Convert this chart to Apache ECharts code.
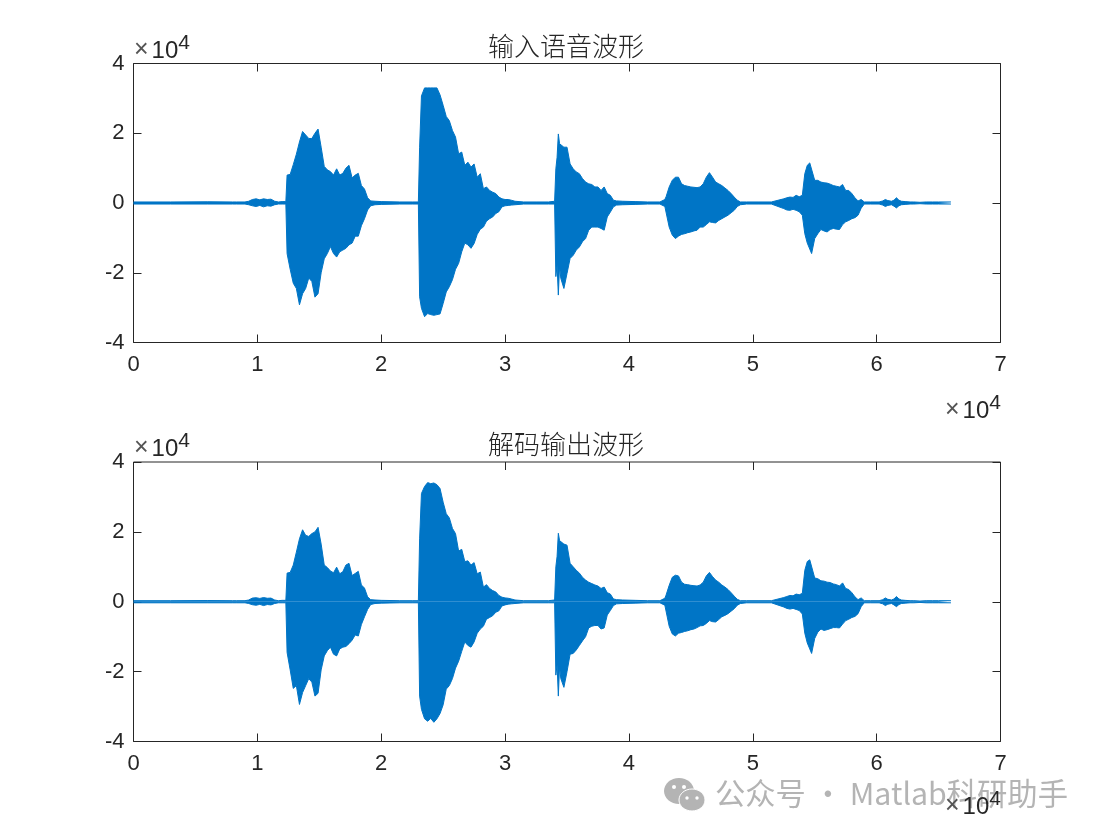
<!DOCTYPE html>
<html><head><meta charset="utf-8">
<style>html,body{margin:0;padding:0;background:#fff}#c{width:1102px;height:838px}</style>
<script src="https://cdn.jsdelivr.net/npm/echarts@6/dist/echarts.min.js"></script>
</head><body><div id="c"></div>
<script>
var xs = [
0,3000,6000,8000,8100,8300,9000,9300,9600,9900,10200,10500,10800,11100,11400,11700,12000,12300,
12400,12650,12900,13150,13400,13650,13900,14150,14400,14650,14900,15150,15400,15650,15900,16150,16400,16650,16900,17150,17400,17650,17900,18150,18400,18650,18900,19150,19500,20000,21500,22500,
23000,23100,23250,23500,23750,24000,24250,24500,24750,25000,25250,25500,25750,26000,26250,26500,26750,27000,27250,27500,27750,28000,28250,28500,28750,29000,29250,29500,29750,30000,30250,30500,30800,31500,32500,33500,
34000,34100,34200,34300,34400,34500,34750,35000,35250,35500,35750,36000,36250,36500,36750,37000,37250,37500,37750,38000,38250,38500,38750,39000,39500,40500,41500,42500,
42900,43000,43250,43500,43750,44000,44250,44500,44750,45000,45250,45500,45750,46000,46250,46500,46750,47000,47250,47500,47750,48000,48250,48500,48750,49000,49500,50500,51500,
52500,52750,53000,53250,53500,53750,54000,54200,54400,54600,54750,55000,55250,55500,55750,56000,56250,56500,56750,57000,57250,57500,57750,58000,58250,58500,58750,59000,59500,
60200,60500,60700,60900,61200,61400,61600,61800,62000,62300,62700,63000,63500,64000,64500,65000,66000];

// amplitudes below are in tens of counts
var inputTop = [
30,30,35,30,60,30,30,50,100,120,90,120,100,110,50,30,40,40,
800,820,1100,1400,1750,2050,1950,1850,1850,2000,2120,1600,1050,950,900,800,980,800,850,1000,1080,720,800,850,500,400,150,60,50,40,30,30,
30,1600,3070,3300,3300,3300,3300,3300,3100,2800,2480,2360,2080,1890,1410,1460,1080,1170,1030,1120,740,840,410,460,360,310,270,170,120,100,100,80,50,30,30,30,
50,980,1310,1980,1700,1740,1600,1600,1120,980,890,840,700,600,550,530,460,460,360,460,270,220,80,60,50,40,30,30,
100,180,460,650,740,740,550,500,480,460,450,440,460,550,740,870,740,600,550,500,430,360,270,170,80,30,30,30,30,
120,150,170,160,220,180,220,840,1080,1150,1150,650,650,600,580,570,540,500,480,460,530,360,360,270,150,60,100,30,30,
30,60,100,70,50,80,150,80,50,40,30,30,20,30,30,30,30];

var inputBottom = [
-30,-30,-30,-30,-50,-30,-30,-50,-80,-100,-70,-110,-80,-90,-50,-30,-30,-30,
-1450,-1900,-2300,-2450,-2920,-2600,-2450,-2150,-2250,-2700,-2600,-2000,-1600,-1450,-1250,-1450,-1550,-1400,-1350,-1300,-1200,-1150,-950,-950,-650,-450,-200,-80,-50,-40,-30,-30,
-30,-2690,-3020,-3260,-3170,-3200,-3220,-3200,-3180,-2880,-2550,-2400,-2200,-1900,-1730,-1400,-1150,-1200,-1300,-1160,-900,-750,-690,-520,-450,-400,-300,-250,-110,-80,-70,-60,-50,-30,-30,-30,
-30,-2110,-1780,-2640,-1800,-2160,-2450,-2020,-1590,-1500,-1350,-1260,-1110,-1020,-780,-690,-690,-690,-730,-780,-400,-260,-110,-60,-50,-40,-30,-30,
-100,-110,-690,-920,-1020,-950,-900,-880,-850,-830,-800,-780,-690,-690,-620,-540,-560,-570,-500,-450,-400,-350,-280,-210,-100,-50,-30,-30,-30,
-160,-200,-210,-180,-210,-250,-350,-880,-1150,-1320,-1450,-1020,-880,-760,-800,-830,-760,-730,-750,-760,-620,-540,-500,-450,-420,-350,-150,-30,-30,
-30,-60,-100,-70,-50,-90,-140,-80,-50,-40,-30,-30,-20,-30,-30,-30,-30];

var outputTop = [
30,30,35,30,60,30,30,50,105,115,95,120,100,105,50,30,40,40,
820,840,1050,1420,1800,2060,1900,1870,1950,2000,2130,1650,1050,980,880,830,990,800,860,1050,1100,750,810,870,480,390,140,60,50,40,30,30,
30,1800,3100,3300,3410,3380,3400,3350,3240,2850,2520,2400,2100,1950,1450,1500,1150,1170,1050,1120,800,850,420,490,380,320,280,180,130,110,100,80,50,30,30,30,
50,1000,1300,1960,1750,1700,1650,1620,1100,1000,900,820,700,620,560,520,480,450,380,420,260,220,80,60,50,40,30,30,
100,190,470,700,760,740,560,500,490,470,460,450,480,560,740,840,720,620,560,480,420,350,260,160,70,30,30,30,30,
120,150,180,170,220,200,240,900,1150,1200,1180,680,660,600,590,560,550,510,490,450,540,380,350,260,140,60,110,30,30,
30,60,110,70,50,80,150,80,50,40,30,30,20,30,30,30,30];

var outputBottom = [
-30,-30,-30,-30,-50,-30,-30,-50,-85,-100,-75,-110,-80,-90,-50,-30,-30,-30,
-1450,-1950,-2480,-2400,-2940,-2600,-2400,-2200,-2300,-2700,-2620,-1950,-1550,-1400,-1300,-1500,-1550,-1350,-1300,-1280,-1200,-1100,-950,-980,-650,-430,-220,-80,-50,-40,-30,-30,
-30,-2700,-3080,-3350,-3420,-3340,-3450,-3350,-3200,-2950,-2500,-2400,-2200,-1900,-1700,-1420,-1150,-1250,-1300,-1150,-900,-780,-700,-500,-450,-400,-300,-260,-120,-90,-70,-60,-50,-30,-30,-30,
-30,-2100,-1800,-2700,-1850,-2200,-2450,-2000,-1500,-1480,-1380,-1250,-1120,-1000,-750,-700,-680,-680,-780,-750,-380,-250,-110,-60,-50,-40,-30,-30,
-100,-120,-700,-920,-980,-900,-880,-850,-830,-800,-780,-740,-690,-680,-620,-540,-570,-580,-510,-430,-390,-340,-270,-200,-100,-50,-30,-30,-30,
-150,-190,-210,-190,-220,-250,-350,-900,-1180,-1350,-1480,-1050,-870,-780,-820,-800,-770,-740,-740,-750,-640,-540,-500,-450,-420,-340,-140,-30,-30,
-30,-60,-110,-70,-50,-90,-140,-80,-50,-40,-30,-30,-20,-30,-30,-30,-30];

var titles = ['输入语音波形', '解码输出波形'];
var watermark = '公众号 · Matlab科研助手';
var exponent = '{x|×}{t|10}{s|4}';

var INK = '#262626', BLUE = '#0075C6', SANS = '"Liberation Sans", Arial, sans-serif';
var pair = function (arr) { return xs.map(function (x, i) { return [x, arr[i] * 10]; }); };
var fmt = function (v) { return String(v / 10000); };

function xAxisFor(g, pos, show) {
  return { type: 'value', gridIndex: g, position: pos, min: 0, max: 70000, interval: 10000,
    axisLine: { show: false, onZero: false }, splitLine: { show: false },
    axisTick: { show: true, inside: true, length: 8, lineStyle: { color: INK, width: 1 } },
    axisLabel: { show: show, formatter: fmt, color: INK, fontFamily: SANS, fontSize: 22, margin: 11 } };
}
function yAxisFor(g, pos, show) {
  return { type: 'value', gridIndex: g, position: pos, min: -40000, max: 40000, interval: 20000,
    axisLine: { show: false, onZero: false }, splitLine: { show: false },
    axisTick: { show: true, inside: true, length: 8, lineStyle: { color: INK, width: 1 } },
    axisLabel: { show: show, formatter: fmt, color: INK, fontFamily: SANS, fontSize: 22, margin: 9 } };
}
function wave(idx, arr) {
  return { type: 'line', xAxisIndex: idx, yAxisIndex: idx, data: pair(arr),
    showSymbol: false, sampling: null, silent: true, clip: true, smooth: false,
    lineStyle: { color: BLUE, width: 1 }, itemStyle: { color: BLUE },
    areaStyle: { color: BLUE, opacity: 1, origin: 0 } };
}
function exp10(left, top) {
  return { type: 'text', left: left, top: top, z: 50, style: { text: exponent,
    rich: { x: { fontFamily: SANS, fontSize: 25, fill: '#555', color: '#555', verticalAlign: 'bottom', lineHeight: 30, padding: [0, 3, 0, 0] },
            t: { fontFamily: SANS, fontSize: 24, fill: INK, color: INK, verticalAlign: 'bottom', lineHeight: 30 },
            s: { fontFamily: SANS, fontSize: 21, fill: INK, color: INK, verticalAlign: 'top', lineHeight: 30, padding: [0, 0, 12, 0] } } } };
}

var chart = echarts.init(document.getElementById('c'), null, { renderer: 'canvas' });
chart.setOption({
  animation: false,
  backgroundColor: '#fff',
  title: [
    { text: titles[0], left: 561, top: 28, textAlign: 'center', textStyle: { fontFamily: '"Noto Sans CJK SC"', fontWeight: 300, fontSize: 26, color: INK } },
    { text: titles[1], left: 561, top: 426, textAlign: 'center', textStyle: { fontFamily: '"Noto Sans CJK SC"', fontWeight: 300, fontSize: 26, color: INK } }
  ],
  grid: [
    { left: 133.5, top: 63.5, width: 867, height: 279, show: true, borderColor: INK, borderWidth: 1, backgroundColor: 'transparent' },
    { left: 133.5, top: 462, width: 867, height: 279.5, show: true, borderColor: INK, borderWidth: 1, backgroundColor: 'transparent' }
  ],
  xAxis: [xAxisFor(0, 'bottom', true), xAxisFor(1, 'bottom', true), xAxisFor(0, 'top', false), xAxisFor(1, 'top', false)],
  yAxis: [yAxisFor(0, 'left', true), yAxisFor(1, 'left', true), yAxisFor(0, 'right', false), yAxisFor(1, 'right', false)],
  series: [wave(0, inputTop), wave(0, inputBottom), wave(1, outputTop), wave(1, outputBottom)],
  graphic: [
    { type: 'group', left: 664, top: 778, z: 40, children: [
      { type: 'ellipse', shape: { cx: 15, cy: 13, rx: 15, ry: 13 }, style: { fill: '#b4b4b4' } },
      { type: 'ellipse', shape: { cx: 28, cy: 22, rx: 13, ry: 11 }, style: { fill: '#b4b4b4', stroke: '#fff', lineWidth: 1 } },
      { type: 'circle', shape: { cx: 10, cy: 9, r: 2 }, style: { fill: '#fff' } },
      { type: 'circle', shape: { cx: 20, cy: 9, r: 2 }, style: { fill: '#fff' } },
      { type: 'circle', shape: { cx: 23, cy: 20, r: 1.7 }, style: { fill: '#fff' } },
      { type: 'circle', shape: { cx: 33, cy: 20, r: 1.7 }, style: { fill: '#fff' } }
    ] },
    { type: 'text', left: 715, top: 778, z: 40, style: { text: watermark, fontFamily: '"Noto Sans CJK SC"', fontSize: 30.3, fill: '#b4b4b4' } },
    exp10(134, 33), exp10(945, 393), exp10(134, 431), exp10(945, 789)
  ]
});
</script></body></html>
